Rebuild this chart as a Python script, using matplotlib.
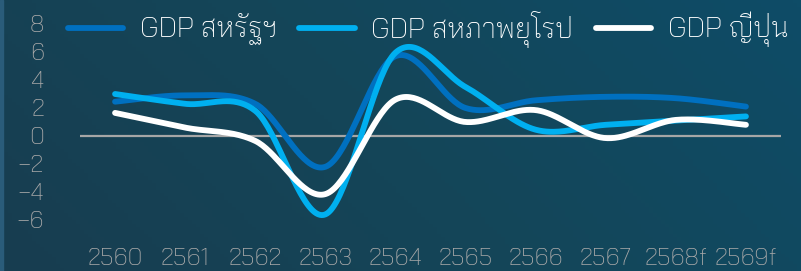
import matplotlib
matplotlib.use('Agg')
import matplotlib.pyplot as plt
import numpy as np
from matplotlib.colors import LinearSegmentedColormap

# ข้อมูล (อ่านค่าจากภาพ)
years = ['2560', '2561', '2562', '2563', '2564', '2565', '2566', '2567', '2568f', '2569f']
gdp_us = [2.45, 2.9, 2.3, -2.2, 5.7, 2.0, 2.55, 2.8, 2.7, 2.1]
gdp_eu = [3.0, 2.3, 1.8, -5.6, 5.95, 3.5, 0.45, 0.8, 1.1, 1.4]
gdp_jp = [1.65, 0.6, -0.35, -4.15, 2.6, 1.0, 1.85, -0.15, 1.15, 0.8]

labels = ['GDP สหรัฐฯ', 'GDP สหภาพยุโรป', 'GDP ญี่ปุ่น']
colors = ['#0070c0', '#00b0f0', '#ffffff']

plt.rcParams['font.family'] = ['Bai Jamjuree', 'DejaVu Sans']


def smooth(xs, ys, n=40):
    # เส้นโค้งแบบ Excel (Catmull-Rom / Bezier)
    p = np.column_stack([xs, ys]).astype(float)
    p = np.vstack([p[0], p, p[-1]])
    out = []
    t = np.linspace(0, 1, n)[:, None]
    for i in range(1, len(p) - 2):
        p0, p1, p2, p3 = p[i - 1], p[i], p[i + 1], p[i + 2]
        c1 = p1 + (p2 - p0) / 6
        c2 = p2 - (p3 - p1) / 6
        seg = ((1 - t) ** 3) * p1 + 3 * ((1 - t) ** 2) * t * c1 + 3 * (1 - t) * t ** 2 * c2 + t ** 3 * p2
        out.append(seg)
    out = np.vstack(out)
    return out[:, 0], out[:, 1]


fig = plt.figure(figsize=(8.01, 2.71), dpi=100)

# พื้นหลังไล่สี
bg = fig.add_axes([0, 0, 1, 1], zorder=-10)
cmap = LinearSegmentedColormap.from_list('bg', ['#183d50', '#144659', '#0e4c67'])
gx, gy = np.meshgrid(np.linspace(0, 1, 200), np.linspace(0, 1, 80))
bg.imshow(gx * 0.75 + (1 - gy) * 0.25, cmap=cmap, aspect='auto', extent=[0, 1, 0, 1], origin='upper')
bg.axvspan(0, 3 / 801, color='#2a5c7a')
bg.set_xlim(0, 1)
bg.set_ylim(0, 1)
bg.axis('off')

ax = fig.add_axes([80 / 801, 1 - 248 / 271, 701 / 801, 224 / 271])
ax.patch.set_alpha(0)
x = np.arange(len(years))

ax.axhline(0, color='#a6a6a6', lw=1.6, zorder=1)
for vals, c, lab in zip([gdp_us, gdp_eu, gdp_jp], colors, labels):
    sx, sy = smooth(x, vals)
    ax.plot(sx, sy, color=c, lw=4.2, solid_capstyle='round', label=lab, zorder=3)

ax.set_xlim(-0.5, len(years) - 0.5)
ax.set_ylim(-8, 8)
ax.set_yticks([-6, -4, -2, 0, 2, 4, 6, 8])
ax.set_xticks(x)
ax.set_xticklabels(years)
for s in ax.spines.values():
    s.set_visible(False)
ax.tick_params(axis='both', length=0, colors='#a9a9a9', labelsize=17)
ax.tick_params(axis='y', pad=26)
ax.tick_params(axis='x', pad=0)
for t in ax.get_xticklabels() + ax.get_yticklabels():
    t.set_fontweight('light')

leg = fig.legend(loc='center', bbox_to_anchor=(428 / 801, 1 - 29 / 271), ncol=3, frameon=False,
                 handlelength=2.0, handletextpad=0.6, columnspacing=0.8,
                 prop={'family': ['Bai Jamjuree', 'DejaVu Sans'], 'weight': 'light', 'size': 20})
for t in leg.get_texts():
    t.set_color('white')

fig.savefig('out.png', dpi=100)
